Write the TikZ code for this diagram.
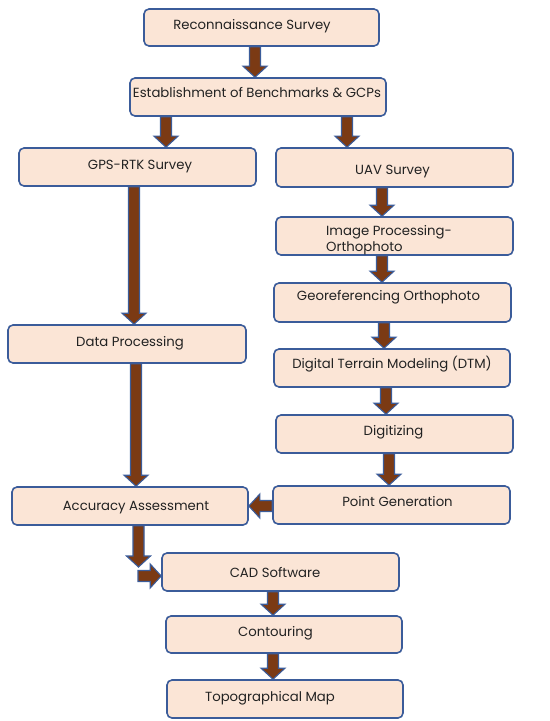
\documentclass[tikz,border=0pt]{standalone}
\usepackage{fontspec}
\setmainfont{Poppins}
\usetikzlibrary{calc}
\definecolor{boxfill}{HTML}{FBE5D6}
\definecolor{boxline}{HTML}{3B5C9A}
\definecolor{arrfill}{HTML}{7B3A14}
\definecolor{arrline}{HTML}{3B5C9A}
\definecolor{txt}{HTML}{222222}
\tikzset{
  box/.style={draw=boxline, fill=boxfill, line width=1.6bp, rounded corners=5bp, inner sep=0pt},
  lbl/.style={anchor=base, inner sep=0pt, text=txt, font=\fontsize{13.3}{15.5}\selectfont},
  blk/.style={draw=arrline, fill=arrfill, line width=1.1bp, line join=miter,
    to path={let \p1=(\tikztostart), \p2=(\tikztotarget), \p3=($(\p2)!11bp!(\p1)$) in
      -- ($(\p1)!5.5bp!90:(\p2)$) -- ($(\p3)!5.5bp!-90:(\p1)$) -- ($(\p3)!12bp!-90:(\p1)$)
      -- (\p2) -- ($(\p3)!12bp!90:(\p1)$) -- ($(\p3)!5.5bp!90:(\p1)$)
      -- ($(\p1)!5.5bp!-90:(\p2)$) -- cycle}}
}
\begin{document}
\begin{tikzpicture}[x=1bp,y=-1bp]
\useasboundingbox (0,0) rectangle (550,721);
% boxes
\node[box, minimum width=235bp, minimum height=37bp] (recon) at (261.5,27.5) {};
\node[box, minimum width=256bp, minimum height=38bp] (est) at (258,97) {};
\node[box, minimum width=237bp, minimum height=38bp] (gps) at (137.5,167) {};
\node[box, minimum width=237bp, minimum height=39bp] (uav) at (394.5,167.5) {};
\node[box, minimum width=237bp, minimum height=38bp] (img) at (394.5,236) {};
\node[box, minimum width=237bp, minimum height=39bp] (geo) at (392.5,302.5) {};
\node[box, minimum width=236bp, minimum height=38bp] (dtm) at (392,368) {};
\node[box, minimum width=237bp, minimum height=38bp] (dig) at (394.5,434) {};
\node[box, minimum width=238bp, minimum height=38bp] (dp) at (127,344) {};
\node[box, minimum width=236bp, minimum height=38bp] (acc) at (130,506) {};
\node[box, minimum width=237bp, minimum height=38bp] (pg) at (391.5,505) {};
\node[box, minimum width=237bp, minimum height=38bp] (cad) at (280.5,572) {};
\node[box, minimum width=236bp, minimum height=37bp] (cont) at (284,634.5) {};
\node[box, minimum width=236bp, minimum height=38bp] (topo) at (285,699) {};
% texts
\node[lbl] (trecon) at (252,29.5) {Reconnaissance Survey};
\node[lbl] (test) at (257,97.5) {Establishment of Benchmarks \& GCPs};
\node[lbl] (tgps) at (140,169.5) {GPS-RTK Survey};
\node[lbl] (tuav) at (392.5,174.5) {UAV Survey};
\node[lbl, anchor=west, align=left] (timg) at (326,240) {Image Processing-\\Orthophoto};
\node[lbl] (tgeo) at (388.5,300.5) {Georeferencing Orthophoto};
\node[lbl] (tdtm) at (392,368.5) {Digital Terrain Modeling (DTM)};
\node[lbl] (tdig) at (393.5,435.5) {Digitizing};
\node[lbl] (tdp) at (130,346.5) {Data Processing};
\node[lbl] (tacc) at (136,510.5) {Accuracy Assessment};
\node[lbl] (tpg) at (397.5,506.5) {Point Generation};
\node[lbl] (tcad) at (275,577.5) {CAD Software};
\node[lbl] (tcont) at (275.5,636.5) {Contouring};
\node[lbl] (ttopo) at (270,701.5) {Topographical Map};
% column coordinates
\coordinate (c1) at (255,0);
\coordinate (c2) at (166,0);
\coordinate (c3) at (347,0);
\coordinate (c4) at (134,0);
\coordinate (c5) at (136,0);
\coordinate (r1) at (382,0);
\coordinate (r2) at (382,0);
\coordinate (r3) at (384,0);
\coordinate (r4) at (386,0);
\coordinate (r5) at (389,0);
\coordinate (b1) at (273,0);
\coordinate (h1) at (0,506);
\coordinate (k1) at (138.5,567);
\coordinate (k2) at (138,576);
% arrows
\draw[blk] (recon.south -| c1) to (est.north -| c1);
\draw[blk] (est.south -| c2) to (gps.north -| c2);
\draw[blk] (est.south -| c3) to (uav.north -| c3);
\draw[blk] (gps.south -| c4) to (dp.north -| c4);
\draw[blk] (dp.south -| c5) to (acc.north -| c5);
\draw[blk] (uav.south -| r1) to (img.north -| r1);
\draw[blk] (img.south -| r2) to (geo.north -| r2);
\draw[blk] (geo.south -| r3) to (dtm.north -| r3);
\draw[blk] (dtm.south -| r4) to (dig.north -| r4);
\draw[blk] (dig.south -| r5) to (pg.north -| r5);
\draw[blk] (pg.west |- h1) to (acc.east |- h1);
\draw[blk] (acc.south -| k1) to (k1);
\draw[blk] (k2) to (cad.west |- k2);
\draw[blk] (cad.south -| b1) to (cont.north -| b1);
\draw[blk] (cont.south -| b1) to (topo.north -| b1);
\end{tikzpicture}
\end{document}
